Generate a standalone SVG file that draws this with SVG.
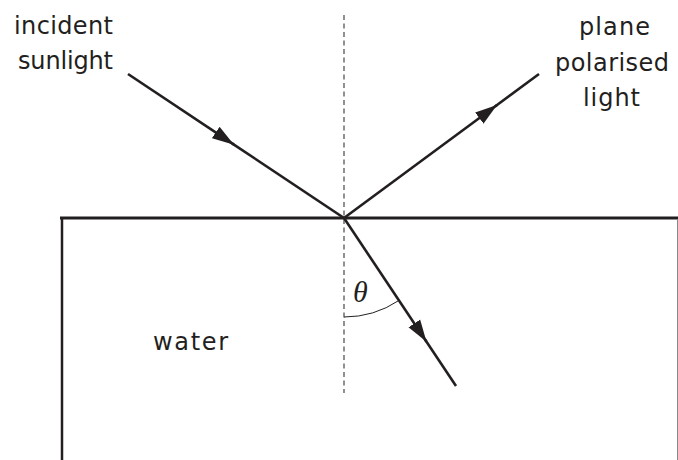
<svg xmlns="http://www.w3.org/2000/svg" width="678" height="460" viewBox="0 0 678 460">
<style>
  .lbl { font-family: "DejaVu Sans", "Liberation Sans", sans-serif; font-size: 24px; fill: #231f20; }
  .ray { stroke: #231f20; stroke-width: 2.6; fill: none; stroke-linecap: butt; }
  .normal { stroke: #555; stroke-width: 1.3; stroke-dasharray: 5 3.5; fill: none; }
  .arc { stroke: #231f20; stroke-width: 1; fill: none; }
</style>
<defs>
  <marker id="ah" markerUnits="userSpaceOnUse" markerWidth="24" markerHeight="16" refX="22" refY="7" orient="auto" viewBox="0 0 24 14">
    <path d="M0,0 L22,7 L0,14 Z" fill="#231f20"/>
  </marker>
</defs>
<rect width="678" height="460" fill="#fff"/>
<g id="water-block">
  <line x1="60" y1="218" x2="678" y2="218" stroke="#231f20" stroke-width="3"/>
  <line x1="62" y1="217" x2="62" y2="460" stroke="#231f20" stroke-width="2.5"/>
  <line x1="677.5" y1="219" x2="677.5" y2="460" stroke="#888" stroke-width="1"/>
  <text class="lbl" x="153" y="350" textLength="75" lengthAdjust="spacing">water</text>
</g>
<g id="normal">
  <line class="normal" x1="344" y1="15" x2="344" y2="393"/>
</g>
<g id="connectors">
  <line class="ray" x1="128" y1="74" x2="234" y2="144.7" marker-end="url(#ah)"/>
  <line class="ray" x1="232" y1="143.3" x2="344" y2="218"/>
  <line class="ray" x1="344" y1="218" x2="497" y2="105" marker-end="url(#ah)"/>
  <line class="ray" x1="495" y1="106.5" x2="539" y2="74"/>
  <line class="ray" x1="344" y1="218" x2="426.5" y2="341.8" marker-end="url(#ah)"/>
  <line class="ray" x1="425" y1="339.5" x2="456" y2="386"/>
</g>
<g id="angle">
  <path class="arc" d="M344,317 A99,99 0 0 0 399,300.4"/>
  <text x="353" y="302" font-family="'Liberation Serif', serif" font-style="italic" font-size="30" fill="#231f20">θ</text>
</g>
<g id="incident-label">
  <text class="lbl" x="14" y="34" textLength="99" lengthAdjust="spacing">incident</text>
  <text class="lbl" x="18" y="69" textLength="95" lengthAdjust="spacing">sunlight</text>
</g>
<g id="reflected-label">
  <text class="lbl" x="579" y="35" textLength="71" lengthAdjust="spacing">plane</text>
  <text class="lbl" x="555" y="71" textLength="114" lengthAdjust="spacing">polarised</text>
  <text class="lbl" x="583" y="106" textLength="57" lengthAdjust="spacing">light</text>
</g>
</svg>
